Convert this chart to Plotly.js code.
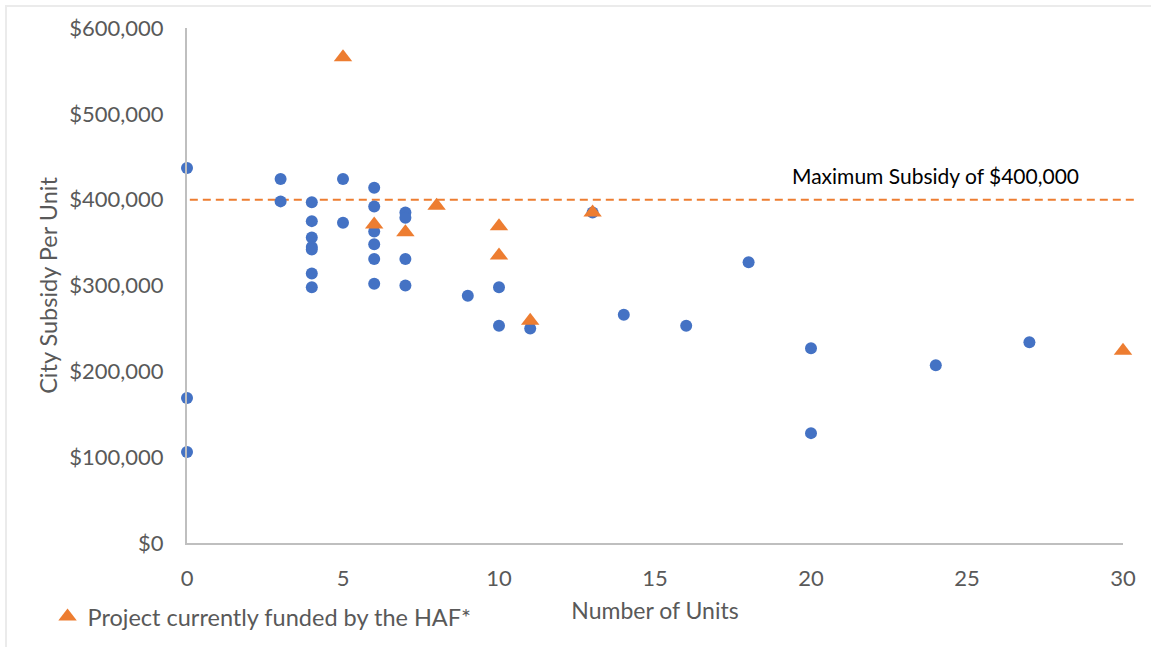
<!DOCTYPE html>
<html>
<head>
<meta charset="utf-8">
<script src="https://cdn.plot.ly/plotly-3.0.1.min.js"></script>
<style>
  html, body { margin: 0; padding: 0; background: #fff; }
  #chart { width: 1151px; height: 647px; }
  #frame { position: absolute; left: 5px; top: 5px; width: 1160px; height: 660px; border-left: 2px solid #ebebeb; border-top: 2px solid #ebebeb; pointer-events: none; }
</style>
</head>
<body>
<div id="chart"></div>
<div id="frame"></div>
<script>
// Non-HAF projects (blue circles)
const otherUnits = [0, 0, 0, 3, 3, 4, 4, 4, 4, 4, 4, 4, 5, 5, 6, 6, 6, 6, 6, 6, 7, 7, 7, 7, 9, 10, 10, 11, 13, 14, 16, 18, 20, 20, 24, 27];
const otherSubsidy = [437000, 169000, 106000, 424000, 398000, 397000, 375000, 356000, 345000, 342000, 314000, 298000, 424000, 373000, 414000, 392000, 363000, 348000, 331000, 302000, 385000, 379000, 331000, 300000, 288000, 298000, 253000, 250000, 385000, 266000, 253000, 327000, 227000, 128000, 207000, 234000];

// Projects currently funded by the HAF (orange triangles)
const hafUnits = [5, 6, 7, 8, 10, 10, 11, 13, 30];
const hafSubsidy = [566000, 371000, 362000, 393000, 369000, 335000, 259000, 385000, 224000];

// Maximum subsidy reference level
const maxSubsidy = 400000;
const maxSubsidyLabel = 'Maximum Subsidy of $400,000';

// Axis ticks
const xTicks = [0, 5, 10, 15, 20, 25, 30];
const yTicks = [0, 100000, 200000, 300000, 400000, 500000, 600000];
const yTickLabels = ['$0', '$100,000', '$200,000', '$300,000', '$400,000', '$500,000', '$600,000'];

const FONT = 'Lato, "Open Sans", sans-serif';
const GREY = '#595959';

const traces = [
  {
    type: 'scatter', mode: 'markers',
    x: otherUnits, y: otherSubsidy,
    name: 'Other project',
    showlegend: false,
    cliponaxis: false,
    marker: { symbol: 'circle', size: 12, color: '#4472C4' },
    hoverinfo: 'x+y'
  },
  {
    type: 'scatter', mode: 'markers',
    x: hafUnits, y: hafSubsidy,
    name: 'Project currently funded by the HAF*',
    showlegend: true,
    cliponaxis: false,
    marker: { symbol: 'triangle-up', size: 16, color: '#ED7D31' },
    hoverinfo: 'x+y'
  }
];

const layout = {
  width: 1151, height: 647,
  margin: { l: 187, r: 28, t: 28, b: 104, pad: 0, autoexpand: false },
  paper_bgcolor: '#ffffff',
  plot_bgcolor: '#ffffff',
  font: { family: FONT, color: GREY, size: 20 },
  showlegend: true,
  legend: {
    x: -0.149, y: -0.143, xanchor: 'left', yanchor: 'middle',
    orientation: 'h',
    font: { family: FONT, size: 23.5, color: GREY },
    bgcolor: 'rgba(0,0,0,0)',
    itemsizing: 'trace'
  },
  xaxis: {
    range: [0, 30],
    tickvals: xTicks,
    ticktext: xTicks.map(String),
    showgrid: false, zeroline: false,
    showline: true, linecolor: '#bfbfbf', linewidth: 2,
    ticks: 'outside', ticklen: 15, tickcolor: 'rgba(0,0,0,0)',
    tickfont: { family: FONT, size: 22, color: GREY },
    title: { text: 'Number of Units', font: { family: FONT, size: 23, color: GREY }, standoff: 12 }
  },
  yaxis: {
    range: [0, 600000],
    tickvals: yTicks,
    ticktext: yTickLabels,
    showgrid: false, zeroline: false,
    showline: true, linecolor: '#bfbfbf', linewidth: 2,
    ticks: 'outside', ticklen: 17, tickcolor: 'rgba(0,0,0,0)',
    tickfont: { family: FONT, size: 22, color: GREY },
    title: { text: 'City Subsidy Per Unit', font: { family: FONT, size: 23.5, color: GREY }, standoff: 5 }
  },
  shapes: [
    {
      type: 'line', xref: 'paper', yref: 'y',
      x0: 0.003, x1: 1.012, y0: maxSubsidy, y1: maxSubsidy,
      line: { color: '#ED7D31', width: 2, dash: '8px,5px' },
      layer: 'below'
    }
  ],
  annotations: [
    {
      xref: 'x', yref: 'y', x: 24, y: maxSubsidy,
      xanchor: 'center', yanchor: 'bottom', yshift: 10,
      text: maxSubsidyLabel, showarrow: false,
      font: { family: FONT, size: 21, color: '#000000' }
    }
  ]
};

Plotly.newPlot('chart', traces, layout, { displayModeBar: false, responsive: false });
</script>
</body>
</html>
